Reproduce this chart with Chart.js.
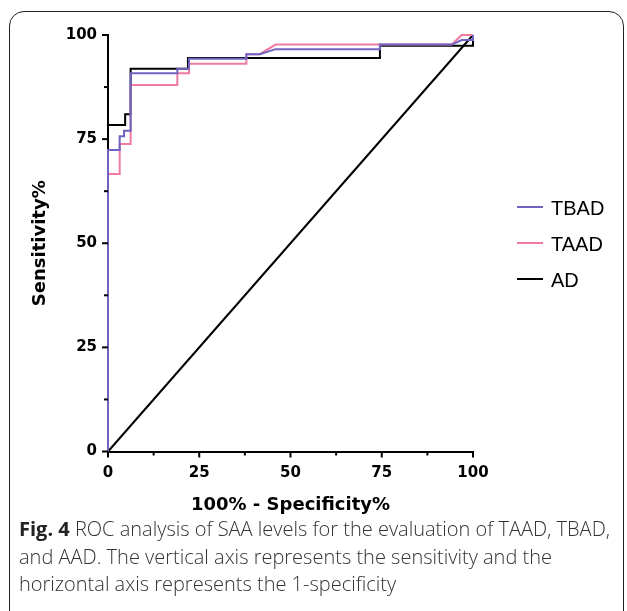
<!DOCTYPE html>
<html>
<head>
<meta charset="utf-8">
<script src="https://cdn.jsdelivr.net/npm/chart.js@4.4.1/dist/chart.umd.min.js"></script>
<style>
  html, body { margin: 0; padding: 0; background: #fff; }
  body { width: 627px; height: 611px; position: relative; overflow: hidden; }
  #frame {
    position: absolute; left: 9px; top: 11px; width: 615px; height: 700px;
    border: 1.5px solid #222; border-radius: 15px; box-sizing: border-box;
  }
  #wrap { position: absolute; left: 0; top: 0; width: 627px; height: 530px; }
  #caption {
    position: absolute; left: 19px; top: 515px; width: 602px;
    font-family: "Open Sans", sans-serif; font-weight: 300; font-size: 20px;
    line-height: 27.5px; color: #333;
  }
  #caption b { font-weight: 700; color: #222; }
</style>
</head>
<body>
<div id="frame"></div>
<div id="wrap"><canvas id="roc" width="627" height="530"></canvas></div>
<div id="caption"><b>Fig. 4</b> ROC analysis of SAA levels for the evaluation of TAAD, TBAD, and AAD. The vertical axis represents the sensitivity and the horizontal axis represents the 1-specificity</div>

<script>
// Values (x = 100% - specificity, y = sensitivity)
const tbadFpr  = [0, 0, 3.2, 3.2, 4.4, 4.4, 6.2, 6.2, 19.0, 19.0, 22.2, 22.2, 37.9, 37.9, 41.6, 45.9, 74.5, 74.5, 94.2, 96.9, 100, 100];
const tbadSens = [0, 72.4, 72.4, 75.7, 75.7, 77.0, 77.0, 90.8, 90.8, 91.9, 91.9, 94.3, 94.3, 95.4, 95.4, 96.6, 96.6, 97.7, 97.7, 98.8, 98.8, 100];

const taadFpr  = [0, 0, 3.2, 3.2, 6.2, 6.2, 19.0, 19.0, 22.2, 22.2, 37.9, 37.9, 41.6, 45.9, 94.2, 96.9, 100];
const taadSens = [0, 66.6, 66.6, 73.8, 73.8, 88.0, 88.0, 90.8, 90.8, 93.1, 93.1, 95.4, 95.4, 97.7, 97.7, 100, 100];

const adFpr  = [0, 0, 4.7, 4.7, 6.2, 6.2, 21.9, 21.9, 74.5, 74.5, 100, 100];
const adSens = [0, 78.4, 78.4, 81.0, 81.0, 91.9, 91.9, 94.5, 94.5, 97.4, 97.4, 100];

const refFpr  = [0, 100];
const refSens = [0, 100];

const seriesNames = ['TBAD', 'TAAD', 'AD'];
const seriesColors = ['#6f63c1', '#f07aa1', '#000000'];
const tickLabels = [0, 25, 50, 75, 100];

function toPoints(xs, ys) {
    return xs.map((x, i) => ({ x: x, y: ys[i] }));
}

// Short minor ticks, longer major ticks, drawn outside the axes
const tickMarks = {
    id: 'tickMarks',
    afterDraw(chart) {
        const ctx = chart.ctx;
        const xs = chart.scales.x, ys = chart.scales.y;
        ctx.save();
        ctx.strokeStyle = '#000';
        ctx.lineWidth = 2;
        xs.ticks.forEach(t => {
            const px = xs.getPixelForValue(t.value);
            const len = tickLabels.includes(t.value) ? 6 : 4;
            ctx.beginPath();
            ctx.moveTo(px, xs.top);
            ctx.lineTo(px, xs.top + len);
            ctx.stroke();
        });
        ys.ticks.forEach(t => {
            const py = ys.getPixelForValue(t.value);
            const len = tickLabels.includes(t.value) ? 6 : 4;
            ctx.beginPath();
            ctx.moveTo(ys.right, py);
            ctx.lineTo(ys.right - len, py);
            ctx.stroke();
        });
        ctx.restore();
    }
};

// Legend to the right of the plot
const sideLegend = {
    id: 'sideLegend',
    afterDraw(chart) {
        const ctx = chart.ctx;
        ctx.save();
        ctx.font = '20px "Liberation Sans", Arial, sans-serif';
        ctx.textBaseline = 'middle';
        seriesNames.forEach((name, i) => {
            const y = 207 + i * 36;
            ctx.strokeStyle = seriesColors[i];
            ctx.lineWidth = 2;
            ctx.beginPath();
            ctx.moveTo(517, y);
            ctx.lineTo(543, y);
            ctx.stroke();
            ctx.fillStyle = '#000';
            ctx.fillText(name, 551, y + 2);
        });
        ctx.restore();
    }
};

const axisFont = { family: '"DejaVu Sans", sans-serif', size: 15, weight: 'bold' };
const titleFont = { family: '"DejaVu Sans", sans-serif', size: 18, weight: 'bold' };

const datasets = [
    { label: seriesNames[0], data: toPoints(tbadFpr, tbadSens), borderColor: seriesColors[0] },
    { label: seriesNames[1], data: toPoints(taadFpr, taadSens), borderColor: seriesColors[1] },
    { label: seriesNames[2], data: toPoints(adFpr, adSens), borderColor: seriesColors[2] },
    { label: 'ref', data: toPoints(refFpr, refSens), borderColor: '#000000' }
].map(d => Object.assign(d, {
    showLine: true, borderWidth: 2, pointRadius: 0, fill: false, tension: 0, clip: false
}));

new Chart(document.getElementById('roc'), {
    type: 'scatter',
    data: { datasets: datasets },
    options: {
        responsive: false,
        animation: false,
        layout: { padding: { top: 35, right: 154, left: 0, bottom: 0 } },
        plugins: { legend: { display: false }, tooltip: { enabled: false } },
        scales: {
            x: {
                type: 'linear', min: 0, max: 100,
                grid: { display: false, drawTicks: false },
                border: { display: true, width: 2, color: '#000' },
                ticks: {
                    stepSize: 12.5, autoSkip: false, maxRotation: 0, padding: 13,
                    color: '#000', font: axisFont,
                    callback: v => tickLabels.includes(v) ? v : ''
                },
                title: { display: true, text: '100% - Specificity%', color: '#000', font: titleFont,
                         padding: { top: 0, bottom: 14 } },
                afterFit: s => { s.height = 78.5; }
            },
            y: {
                type: 'linear', min: 0, max: 100,
                grid: { display: false, drawTicks: false },
                border: { display: true, width: 2, color: '#000' },
                ticks: {
                    stepSize: 12.5, autoSkip: false, padding: 11,
                    color: '#000', font: axisFont,
                    callback: v => tickLabels.includes(v) ? v : ''
                },
                title: { display: true, text: 'Sensitivity%', color: '#000', font: titleFont,
                         padding: { top: 30, bottom: 0 } },
                afterFit: s => { s.width = 108; }
            }
        }
    },
    plugins: [tickMarks, sideLegend]
});
</script>
</body>
</html>
